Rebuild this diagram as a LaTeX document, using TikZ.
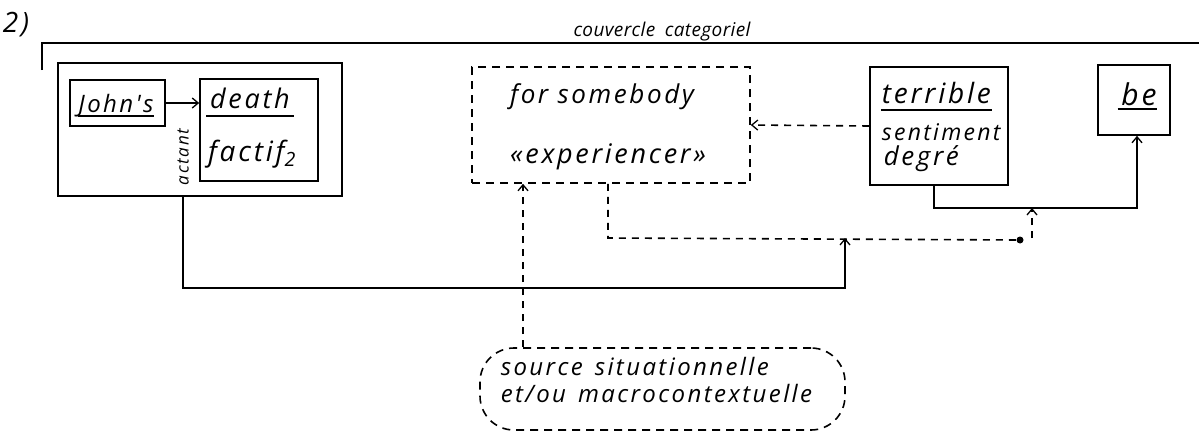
\documentclass[tikz,border=0pt]{standalone}
\usepackage{fontspec}
\setmainfont{Open Sans}
\newfontfamily\hand[LetterSpace=10]{Open Sans}
\newfontfamily\handc[LetterSpace=2]{Open Sans}
\newcommand\hsz[1]{\hand\itshape\fontsize{#1}{#1}\selectfont}
\newcommand\hcz[1]{\handc\itshape\fontsize{#1}{#1}\selectfont}
\usetikzlibrary{arrows.meta}
\begin{document}
\begin{tikzpicture}[x=1pt,y=-1pt,line width=1.6pt,
  hbox/.style={draw, line width=1.6pt, inner sep=0pt},
  dbox/.style={draw, line width=1.6pt, dash pattern=on 8pt off 6pt, inner sep=0pt},
  dline/.style={dash pattern=on 7pt off 6pt},
  tip/.style={-{Straight Barb[length=6pt,width=10pt,line width=1.3pt]}},
  txt/.style={inner sep=0pt, anchor=base},
  uline/.style={line width=1.3pt}]
\useasboundingbox (0,0) rectangle (1199,431);

% boxes
\node[hbox, minimum width=284pt, minimum height=133pt] (outer) at (200,129.5) {};
\node[hbox, minimum width=95pt, minimum height=46pt] (john) at (117.5,103) {};
\node[hbox, minimum width=118pt, minimum height=102pt] (death) at (259,130) {};
\node[dbox, minimum width=278pt, minimum height=116pt] (forsb) at (611,125) {};
\node[hbox, minimum width=138pt, minimum height=118pt] (terr) at (939,126) {};
\node[hbox, minimum width=72pt, minimum height=70pt] (be) at (1134,100) {};
\node[dbox, rounded corners=34pt, minimum width=365pt, minimum height=82pt] (src) at (662.5,389) {};

% texts
\node[txt, font=\hsz{28}] (lab) at (16,32) {2)};
\node[txt, font=\hcz{19}] (cov) at (662,36) {couvercle\enspace categoriel};
\node[txt, font=\hsz{24}] (johnt) at (116,112) {John's};
\draw[uline] ([yshift=-4pt]johnt.base west) -- ([yshift=-4pt]johnt.base east);
\node[txt, font=\hsz{27}] (deatht) at (250,108) {death};
\draw[uline] ([xshift=-3pt,yshift=-8pt]deatht.base west) -- ([xshift=3pt,yshift=-8pt]deatht.base east);
\node[txt, font=\hsz{28}] (factt) at (252,161) {factif\textsubscript{2}};
\node[inner sep=0pt, font=\hsz{17}, rotate=90] (act) at (183,157) {actant};
\node[txt, font=\hsz{26}] (fst) at (602,103) {for somebody};
\node[txt, font=\hsz{27}] (expt) at (608,163) {«experiencer»};
\node[txt, font=\hsz{28}, anchor=base west] (terrt) at (881,103) {terrible};
\draw[uline] ([yshift=-7pt]terrt.base west) -- ([yshift=-7pt]terrt.base east);
\node[txt, font=\hsz{23}, anchor=base west] (sentt) at (881,140) {sentiment};
\node[txt, font=\hsz{26}, anchor=base west] (degt) at (883,165) {degré};
\node[txt, font=\hsz{30}] (bet) at (1139,105) {be};
\draw[uline] ([xshift=-3pt,yshift=-4pt]bet.base west) -- ([yshift=-4pt]bet.base east);
\node[txt, font=\hsz{24}, anchor=base west] (src1) at (500,375) {source\enspace situationnelle};
\node[txt, font=\hsz{24}, anchor=base west] (src2) at (500,402) {et/ou\enspace macrocontextuelle};

% coordinates
\coordinate (c0) at (42,70);
\coordinate (c1) at (42,43);
\coordinate (c2) at (1199,43);
\coordinate (j1) at (183,288);
\coordinate (j2) at (845,288);
\coordinate (dl) at (608,238);
\coordinate (dotc) at (1020,240);
\coordinate (d2) at (1032,238);
\coordinate (s1) at (934,208);
\coordinate (s2) at (1137,208);
\coordinate (v) at (523,0);

% connectors
\draw (c0) -- (c1) -- (c2);
\draw[tip] (john.east) -- (death.west |- john.east);
\draw[tip] (outer.south -| j1) -- (j1) -- (j2) -- (j2 |- dl);
\draw[dline] (forsb.south -| dl) -- (dl) -- (dotc);
\fill (dotc) circle (3.5pt);
\draw[dline, tip] (d2) -- (d2 |- s1);
\draw[tip] (terr.south -| s1) -- (s1) -- (s2) -- (be.south -| s2);
\draw[dline, tip] (terr.west) -- (forsb.east);
\draw[dline, tip] (src.north -| v) -- (forsb.south -| v);
\end{tikzpicture}
\end{document}
